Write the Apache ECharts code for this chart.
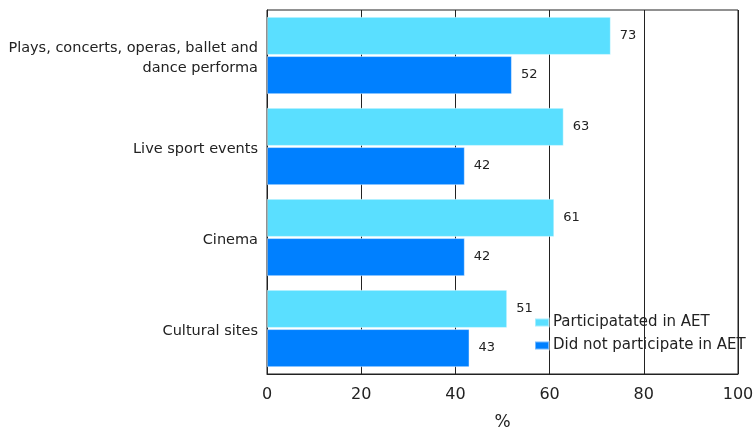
<!DOCTYPE html>
<html>
<head>
<meta charset="utf-8">
<script src="https://cdn.jsdelivr.net/npm/echarts@6/dist/echarts.min.js"></script>
<style>html,body{margin:0;padding:0;background:#fff}#c{width:756px;height:434px}</style>
</head>
<body>
<div id="c"></div>
<script>
var categories = ['Plays, concerts, operas, ballet and\ndance performa', 'Live sport events', 'Cinema', 'Cultural sites'];
var participated = [73, 63, 61, 51];
var notParticipated = [52, 42, 42, 43];
var seriesNames = ['Participatated in AET', 'Did not participate in AET'];
var xTicks = [0, 20, 40, 60, 80, 100];

var chart = echarts.init(document.getElementById('c'), null, {renderer: 'canvas'});
var font = 'DejaVu Sans';
chart.setOption({
  animation: false,
  backgroundColor: '#fff',
  grid: {left: 267, right: 18, top: 10, bottom: 60, containLabel: false, outerBoundsMode: 'none',
         show: true, borderColor: '#222', borderWidth: 1, backgroundColor: '#fff'},
  legend: {
    orient: 'vertical', left: 529, top: 310, itemWidth: 14, itemHeight: 8, itemGap: 8,
    icon: 'rect',
    textStyle: {fontFamily: font, fontSize: 15, color: '#222', padding: [0, 0, 0, -1]},
    data: seriesNames
  },
  xAxis: {
    type: 'value', min: xTicks[0], max: xTicks[xTicks.length - 1], interval: 20,
    name: '%', nameLocation: 'middle', nameGap: 40,
    nameTextStyle: {fontFamily: font, fontSize: 17, color: '#222'},
    axisLine: {show: true, lineStyle: {color: '#222', width: 1}},
    axisTick: {show: false},
    splitLine: {show: true, lineStyle: {color: '#222', width: 1}},
    axisLabel: {fontFamily: font, fontSize: 16, color: '#222', margin: 13}
  },
  yAxis: {
    type: 'category', inverse: true, data: categories,
    axisLine: {show: true, lineStyle: {color: '#222', width: 1}},
    axisTick: {show: false},
    axisLabel: {
      margin: 9, align: 'right',
      formatter: function (v) {
        return v.split('\n').map(function (s) { return '{a|' + s + '}'; }).join('\n');
      },
      rich: {a: {fontFamily: font, fontSize: 14.5, color: '#222', lineHeight: 20, padding: [6, 0, 0, 0], align: 'right'}}
    }
  },
  series: [
    {
      name: seriesNames[0], type: 'bar', data: participated,
      barCategoryGap: '15%', barGap: '3%',
      itemStyle: {color: '#5ADFFF', borderColor: 'rgba(255,255,255,0.45)', borderWidth: 1},
      label: {show: true, position: 'right', distance: 9, fontFamily: font, fontSize: 13, color: '#222'}
    },
    {
      name: seriesNames[1], type: 'bar', data: notParticipated,
      barCategoryGap: '15%', barGap: '3%',
      itemStyle: {color: '#0080FF', borderColor: 'rgba(255,255,255,0.45)', borderWidth: 1},
      label: {show: true, position: 'right', distance: 9, fontFamily: font, fontSize: 13, color: '#222'}
    }
  ]
});
</script>
</body>
</html>
